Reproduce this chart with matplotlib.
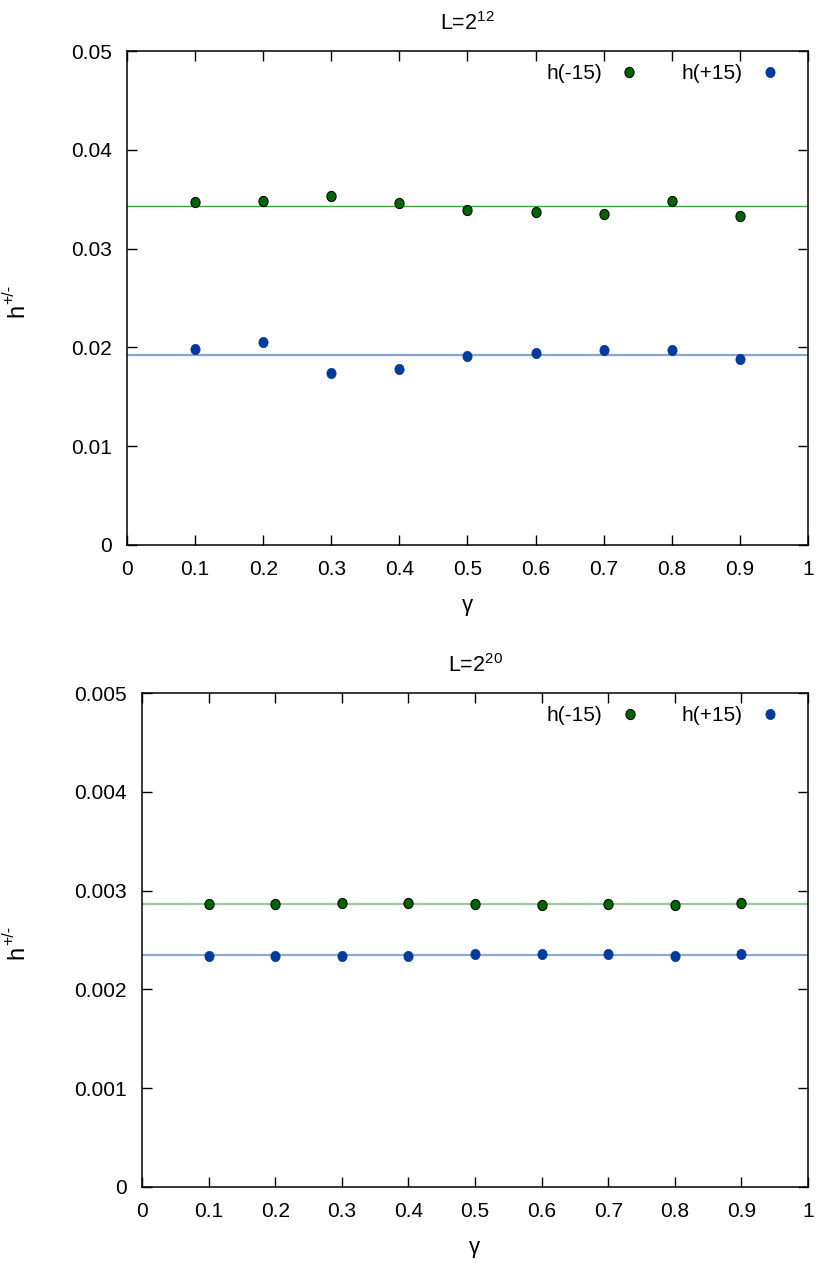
import numpy as np
import matplotlib
matplotlib.use('Agg')
import matplotlib.pyplot as plt

plt.rcParams['font.family'] = ['Liberation Sans', 'DejaVu Sans']
plt.rcParams['mathtext.fontset'] = 'custom'
plt.rcParams['mathtext.rm'] = 'Liberation Sans'
plt.rcParams['mathtext.it'] = 'Liberation Sans'

# datos
gamma = [0.1, 0.2, 0.3, 0.4, 0.5, 0.6, 0.7, 0.8, 0.9]

# L = 2^12
hm_12 = [0.03469, 0.03479, 0.03530, 0.03459, 0.03387, 0.03367, 0.03347, 0.03479, 0.03327]
hp_12 = [0.01988, 0.02059, 0.01744, 0.01785, 0.01917, 0.01947, 0.01978, 0.01978, 0.01886]
fit_m_12 = 0.03428
fit_p_12 = 0.01927

# L = 2^20
hm_20 = [0.002866, 0.002866, 0.002876, 0.002873, 0.002863, 0.002853, 0.002863, 0.002853, 0.002876]
hp_20 = [0.002340, 0.002340, 0.002340, 0.002334, 0.002360, 0.002354, 0.002357, 0.002337, 0.002360]
fit_m_20 = 0.002866
fit_p_20 = 0.002343

xt_lab = ['0', '0.1', '0.2', '0.3', '0.4', '0.5', '0.6', '0.7', '0.8', '0.9', '1']

paneles = [
    dict(pos=[0.1554, 0.5685, 0.8336, 0.3911], titulo='L=2$^{12}$',
         yt=[0, 0.01, 0.02, 0.03, 0.04, 0.05],
         ytl=['0', '0.01', '0.02', '0.03', '0.04', '0.05'], hm=hm_12, hp=hp_12,
         fm=fit_m_12, fp=fit_p_12, cm='#40a040', cp='#86a4d8', lwm=1.0, lwp=1.6,
         yc=0.764),
    dict(pos=[0.1738, 0.0602, 0.8152, 0.3911], titulo='L=2$^{20}$',
         yt=[0, 0.001, 0.002, 0.003, 0.004, 0.005],
         ytl=['0', '0.001', '0.002', '0.003', '0.004', '0.005'], hm=hm_20, hp=hp_20,
         fm=fit_m_20, fp=fit_p_20, cm='#9cc89c', cp='#8ca6d8', lwm=1.6, lwp=1.6,
         yc=0.256),
]

# marcador circular apenas estirado en vertical
t = np.linspace(0, 2*np.pi, 41)
elipse = np.column_stack([0.9*np.cos(t), np.sin(t)])

fig = plt.figure(figsize=(8.17, 12.63), dpi=100)

for p in paneles:
    ax = fig.add_axes(p['pos'])
    ax.axhline(p['fm'], color=p['cm'], lw=p['lwm'], zorder=1)
    ax.axhline(p['fp'], color=p['cp'], lw=p['lwp'], zorder=1)
    ax.plot(gamma, p['hm'], ls='none', marker=elipse, ms=7.4, mfc='#006400',
            mec='black', mew=0.7, label='h(-15)', zorder=3)
    ax.plot(gamma, p['hp'], ls='none', marker=elipse, ms=7.4, mfc='#003a9c',
            mec='#003a9c', mew=0.5, label='h(+15)', zorder=3)
    ax.set_xlim(0, 1)
    ax.set_ylim(0, p['yt'][-1])
    ax.set_xticks(np.arange(0, 1.01, 0.1))
    ax.set_xticklabels(xt_lab)
    ax.set_yticks(p['yt'])
    ax.set_yticklabels(p['ytl'])
    ax.tick_params(direction='in', length=7, width=1, top=True, right=True,
                   labelsize=15)
    ax.tick_params(axis='x', pad=11)
    ax.tick_params(axis='y', pad=11)
    for s in ax.spines.values():
        s.set_linewidth(1.1)
    ax.set_title(p['titulo'], fontsize=15.5, pad=15)
    ax.set_xlabel(r'$\gamma$', fontsize=16, labelpad=13)
    # etiqueta y a mano (guion normal en el superindice)
    fig.text(0.021, p['yc'] - 0.010, 'h', rotation=90, fontsize=17,
             ha='center', va='center')
    fig.text(0.011, p['yc'] + 0.003, '+/-', rotation=90, fontsize=11.5,
             ha='center', va='center')
    ax.legend(loc='upper right', ncol=2, markerfirst=False, frameon=False,
              fontsize=15, handlelength=1.0, handletextpad=0.8,
              columnspacing=2.0, borderaxespad=0,
              bbox_to_anchor=(0.971, 0.99))

fig.savefig('out.png', dpi=100)
